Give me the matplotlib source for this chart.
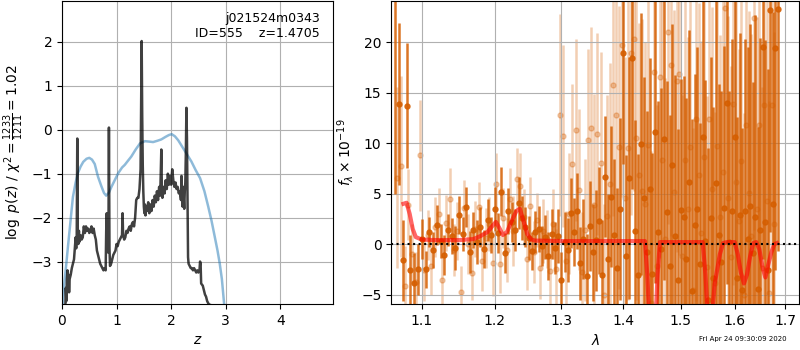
import numpy as np
import matplotlib
matplotlib.use("Agg")
import matplotlib.pyplot as plt
from matplotlib.ticker import ScalarFormatter, NullLocator, FixedLocator

# ---------------- left panel data: p(z) ----------------
pz_z = [0.06, 0.07, 0.08, 0.09, 0.10, 0.11, 0.12, 0.13, 0.14, 0.16, 0.18, 0.20, 0.22, 0.24, 0.25,
        0.26, 0.27, 0.28, 0.29, 0.30, 0.31, 0.32, 0.34, 0.36, 0.38, 0.40, 0.42, 0.44, 0.46, 0.48,
        0.50, 0.52, 0.54, 0.56, 0.58, 0.60, 0.62, 0.64, 0.66, 0.68, 0.70, 0.72, 0.74, 0.76, 0.78,
        0.80, 0.81, 0.82, 0.83, 0.84, 0.85, 0.86, 0.87, 0.88, 0.90, 0.92, 0.94, 0.96, 0.98, 1.00,
        1.02, 1.04, 1.06, 1.08, 1.10, 1.11, 1.12, 1.14, 1.16, 1.18, 1.20, 1.22, 1.24, 1.26, 1.28,
        1.30, 1.32, 1.34, 1.36, 1.38, 1.40, 1.42, 1.44, 1.45, 1.46, 1.47, 1.48, 1.49, 1.50, 1.51,
        1.52, 1.53, 1.54, 1.56, 1.58, 1.60, 1.62, 1.64, 1.66, 1.68, 1.70, 1.72, 1.74, 1.76, 1.78,
        1.80, 1.82, 1.83, 1.84, 1.86, 1.88, 1.90, 1.92, 1.94, 1.96, 1.98, 2.00, 2.02, 2.04, 2.06,
        2.08, 2.10, 2.12, 2.14, 2.16, 2.18, 2.19, 2.20, 2.21, 2.22, 2.23, 2.24, 2.25, 2.26, 2.27,
        2.28, 2.29, 2.30, 2.31, 2.32, 2.34, 2.36, 2.38, 2.40, 2.42, 2.44, 2.46, 2.48, 2.50, 2.52,
        2.53, 2.54, 2.55, 2.58, 2.60, 2.62, 2.64, 2.66, 2.68, 2.70, 2.75, 2.80]
pz_log = [-4.1, -3.6, -3.9, -3.4, -3.2, -3.6, -3.3, -3.7, -3.4, -3.3, -3.15, -3.05, -2.95, -2.6, -2.45,
          -2.7, -2.4, -0.2, -2.5, -2.6, -2.3, -2.55, -2.4, -2.5, -2.45, -2.2, -2.35, -2.2, -2.3, -2.25,
          -2.35, -2.3, -2.2, -2.35, -2.25, -2.4, -2.5, -2.75, -2.85, -2.95, -3.05, -3.1, -3.15, -3.2, -3.15,
          -3.2, -2.3, -1.9, -2.6, -2.2, -2.8, 0.05, -2.7, -3.1, -3.05, -2.95, -2.85, -2.8, -2.75, -2.6,
          -2.65, -2.55, -2.5, -2.45, -2.4, -1.9, -2.4, -2.5, -2.45, -2.3, -2.35, -2.25, -2.2, -2.3, -2.15,
          -2.1, -2.2, -2.0, -1.6, -1.55, -1.55, -1.35, -0.9, 0.5, 2.02, 0.3, -0.8, -1.4, -1.75, -1.9,
          -1.7, -1.95, -1.75, -1.85, -1.65, -1.9, -1.7, -1.85, -1.6, -1.75, -1.5, -1.65, -1.4, -1.6, -1.3,
          -1.5, -0.45, -1.35, -1.55, -1.3, -1.45, -1.15, -1.35, -1.0, -1.25, -1.05, -1.25, -0.9, -1.15, -1.3,
          -1.2, -1.35, -1.3, -1.45, -1.4, -1.6, -1.05, -1.5, -1.75, -1.3, -1.55, -1.8, -1.4, -1.2, -0.5,
          0.5, -0.2, -1.5, -2.9, -3.05, -3.1, -3.15, -3.15, -3.2, -3.15, -3.2, -3.25, -3.2, -3.25, -3.2,
          -3.0, -3.05, -3.5, -3.55, -3.65, -3.75, -3.8, -3.9, -3.95, -3.98, -4.0, -4.05]

chi_z = [0.0, 0.02, 0.05, 0.08, 0.11, 0.14, 0.17, 0.20, 0.25, 0.29, 0.34, 0.39, 0.45, 0.50, 0.55,
         0.60, 0.66, 0.72, 0.77, 0.81, 0.86, 0.91, 0.97, 1.03, 1.10, 1.15, 1.20, 1.27, 1.35, 1.43,
         1.52, 1.60, 1.67, 1.75, 1.82, 1.90, 1.96, 2.01, 2.07, 2.13, 2.20, 2.28, 2.37, 2.45, 2.53,
         2.61, 2.68, 2.74, 2.80, 2.85, 2.89, 2.93, 2.97, 3.0]
chi_val = [-4.6, -3.8, -3.4, -3.04, -2.65, -2.28, -1.9, -1.53, -1.2, -0.99, -0.84, -0.73, -0.66, -0.64, -0.68,
           -0.78, -1.07, -1.28, -1.44, -1.50, -1.43, -1.29, -1.14, -0.99, -0.86, -0.80, -0.72, -0.61, -0.45, -0.31,
           -0.26, -0.27, -0.28, -0.25, -0.22, -0.16, -0.12, -0.10, -0.15, -0.24, -0.38, -0.54, -0.72, -0.92, -1.10,
           -1.40, -1.75, -2.07, -2.44, -2.75, -3.04, -3.40, -3.95, -4.5]

# ---------------- right panel data: spectrum ----------------
wave_a = [1.065, 1.070, 1.075, 1.080, 1.085, 1.090, 1.095, 1.100, 1.105, 1.110, 1.115, 1.120, 1.125,
          1.130, 1.135, 1.140, 1.145, 1.150, 1.155, 1.160, 1.165, 1.170, 1.175, 1.180, 1.185, 1.190,
          1.195, 1.200, 1.205, 1.210, 1.215, 1.220, 1.225, 1.230, 1.235, 1.240, 1.245, 1.250, 1.255,
          1.260, 1.265, 1.270, 1.275, 1.280, 1.285, 1.290, 1.295, 1.300, 1.305, 1.310, 1.315, 1.320,
          1.325, 1.330, 1.335, 1.340, 1.345, 1.350, 1.355, 1.360, 1.365, 1.370, 1.375, 1.380, 1.385,
          1.390, 1.395, 1.400, 1.405, 1.410, 1.415, 1.420, 1.425, 1.430, 1.435, 1.440, 1.445, 1.450,
          1.455, 1.460, 1.465, 1.470, 1.475, 1.480, 1.485, 1.490, 1.495, 1.500, 1.505, 1.510, 1.515,
          1.520, 1.525, 1.530, 1.535, 1.540, 1.545, 1.550, 1.555, 1.560, 1.565, 1.570, 1.575, 1.580,
          1.585, 1.590, 1.595, 1.600, 1.605, 1.610, 1.615, 1.620, 1.625, 1.630, 1.635, 1.640, 1.645,
          1.650, 1.655, 1.660, 1.665, 1.670, 1.675, 1.680, 1.685]
flux_a = [26.0, 13.9, -1.6, 13.7, -2.6, -3.9, -2.5, 0.5, -2.5, 1.2, -0.6, 1.9, 0.3,
          -1.1, 1.4, 0.8, -0.4, 2.9, 1.0, 3.7, -0.8, 1.4, 0.2, 1.7, -0.5, 2.4,
          0.9, 3.5, 1.1, 5.2, -0.9, 3.3, 2.2, 1.4, 4.1, 2.6, 1.7, 0.6, -0.7,
          1.2, 1.5, -0.2, 0.7, -1.2, 1.0, -0.4, 0.8, -3.6, 0.2, -0.6, 3.1, 1.2,
          3.3, -1.9, 0.5, -3.2, 1.8, -0.8, 0.4, 2.3, -3.1, 6.7, -1.5, 4.7, 0.9,
          -2.4, 3.5, 18.9, -1.2, 6.6, 18.5, 1.3, -3.1, 9.9, 4.6, -0.8, 5.5, -3.0,
          11.1, 1.2, -0.5, 10.4, 3.2, -2.2, 7.8, 0.8, -3.6, 3.4, 2.7, -1.5, 6.2,
          -4.6, 1.9, 3.5, -2.0, 10.6, 0.3, -5.5, 2.6, -3.4, 6.1, 0.9, -1.8, 3.6,
          14.0, 0.2, 3.3, 10.6, -3.4, 2.9, -4.5, 3.3, 0.5, 3.8, -0.9, 2.7, -4.4,
          1.4, 19.5, 2.2, -2.6, 23.2, 4.0, 19.4, 23.3]
err_a = [21.0, 8.0, 4.0, 6.2, 3.5, 3.0, 2.5, 2.0, 1.8, 1.5, 1.8, 2.0, 1.7,
         2.0, 1.6, 1.8, 2.2, 1.9, 1.7, 2.0, 2.1, 1.8, 2.2, 2.0, 1.9, 2.1,
         1.8, 2.2, 2.0, 2.4, 2.0, 2.3, 2.0, 2.1, 2.6, 2.2, 2.0, 2.2, 1.9,
         2.1, 2.3, 2.0, 2.2, 2.4, 2.5, 2.6, 2.7, 2.8, 3.0, 3.2, 3.5, 3.4,
         3.8, 3.6, 4.0, 4.2, 4.5, 4.8, 5.0, 5.3, 5.5, 6.0, 6.5, 7.0, 7.5,
         8.0, 9.0, 11.0, 10.0, 12.0, 13.0, 11.0, 12.0, 13.0, 12.0, 14.0, 13.0, 12.0,
         15.0, 13.0, 16.0, 14.0, 13.0, 15.0, 14.0, 16.0, 15.0, 13.0, 14.0, 16.0, 15.0,
         17.0, 15.0, 16.0, 14.0, 17.0, 16.0, 15.0, 16.0, 17.0, 18.0, 15.0, 17.0, 16.0,
         18.0, 15.0, 17.0, 19.0, 16.0, 18.0, 16.0, 17.0, 19.0, 18.0, 17.0, 20.0, 16.0,
         19.0, 21.0, 18.0, 20.0, 22.0, 19.0, 22.0, 24.0]

wave_b = [1.0675, 1.0725, 1.0775, 1.0825, 1.0875, 1.0925, 1.0975, 1.1025, 1.1075, 1.1125, 1.1175,
          1.1225, 1.1275, 1.1325, 1.1375, 1.1425, 1.1475, 1.1525, 1.1575, 1.1625, 1.1675, 1.1725,
          1.1775, 1.1825, 1.1875, 1.1925, 1.1975, 1.2025, 1.2075, 1.2125, 1.2175, 1.2225, 1.2275,
          1.2325, 1.2375, 1.2425, 1.2475, 1.2525, 1.2575, 1.2625, 1.2675, 1.2725, 1.2775, 1.2825,
          1.2875, 1.2925, 1.2975, 1.3025, 1.3075, 1.3125, 1.3175, 1.3225, 1.3275, 1.3325, 1.3375,
          1.3425, 1.3475, 1.3525, 1.3575, 1.3625, 1.3675, 1.3725, 1.3775, 1.3825, 1.3875, 1.3925,
          1.3975, 1.4025, 1.4075, 1.4125, 1.4175, 1.4225, 1.4275, 1.4325, 1.4375, 1.4425, 1.4475,
          1.4525, 1.4575, 1.4625, 1.4675, 1.4725, 1.4775, 1.4825, 1.4875, 1.4925, 1.4975, 1.5025,
          1.5075, 1.5125, 1.5175, 1.5225, 1.5275, 1.5325, 1.5375, 1.5425, 1.5475, 1.5525, 1.5575,
          1.5625, 1.5675, 1.5725, 1.5775, 1.5825, 1.5875, 1.5925, 1.5975, 1.6025, 1.6075, 1.6125,
          1.6175, 1.6225, 1.6275, 1.6325, 1.6375, 1.6425, 1.6475, 1.6525, 1.6575, 1.6625, 1.6675,
          1.6725, 1.6775]
flux_b = [6.6, 7.7, -4.2, 3.9, -1.0, -3.8, 8.8, -2.6, 0.9, -2.2, 1.7,
          3.0, -3.6, 2.1, 4.5, -0.6, 1.3, -4.7, 3.6, 0.0, -2.9, 1.5,
          3.7, -1.7, 0.6, 2.0, -1.9, 6.0, -2.0, 2.6, -0.6, 4.5, 1.3,
          6.5, 5.8, 2.7, -1.5, 3.8, -0.8, 2.4, -2.4, 1.3, 0.5, -2.7,
          2.0, -2.5, 12.8, 10.7, -1.7, 3.0, 7.9, 11.3, 5.4, -2.8, 1.4,
          10.3, 11.5, 3.9, 10.9, 8.0, -5.0, 2.8, 6.0, 15.8, 12.8, 9.6,
          19.7, 4.6, 9.5, 18.9, 20.3, 10.5, 6.9, 5.3, 4.0, 9.8, -5.8,
          17.1, -2.2, 16.6, 8.3, 0.5, 21.0, 17.8, 5.2, 16.2, 16.9, -1.2,
          8.3, 3.5, 9.6, -4.5, 12.4, 6.9, 1.1, 8.6, -2.3, 12.4, 5.5,
          -3.9, 9.7, 2.7, 7.2, 23.4, 4.6, -1.3, 13.9, 6.2, 2.3, 8.2,
          -5.0, 11.8, 5.1, 0.8, 22.4, 3.5, 11.8, -2.4, 13.8, 4.3, -4.8,
          13.8, 2.0]
err_b = [9.0, 9.0, 4.0, 3.5, 3.0, 3.0, 5.5, 3.0, 2.5, 2.8, 3.0,
         2.6, 2.5, 2.8, 3.0, 2.6, 2.9, 2.5, 2.8, 3.0, 2.6, 2.8,
         2.5, 2.9, 3.0, 2.7, 3.2, 3.0, 2.8, 3.0, 3.2, 3.0, 3.5,
         3.0, 3.2, 2.8, 3.0, 2.9, 3.1, 2.7, 3.0, 3.2, 2.9, 3.3,
         3.5, 4.0, 10.0, 9.0, 5.0, 6.0, 8.0, 9.0, 8.0, 6.0, 7.0,
         9.0, 10.0, 11.0, 10.0, 11.0, 9.0, 12.0, 12.0, 13.0, 12.0, 14.0,
         15.0, 14.0, 15.0, 16.0, 15.0, 16.0, 15.0, 17.0, 16.0, 18.0, 15.0,
         17.0, 16.0, 18.0, 17.0, 16.0, 19.0, 17.0, 18.0, 17.0, 18.0, 16.0,
         18.0, 17.0, 19.0, 16.0, 18.0, 17.0, 19.0, 18.0, 17.0, 19.0, 18.0,
         17.0, 19.0, 18.0, 17.0, 20.0, 18.0, 19.0, 18.0, 19.0, 17.0, 20.0,
         18.0, 19.0, 18.0, 20.0, 21.0, 19.0, 20.0, 18.0, 21.0, 20.0, 19.0,
         20.0, 19.0]

model_wave = [1.076, 1.080, 1.084, 1.088, 1.092, 1.100, 1.120, 1.150, 1.170, 1.180, 1.190, 1.197,
              1.202, 1.207, 1.212, 1.218, 1.225, 1.232, 1.237, 1.242, 1.248, 1.254, 1.260, 1.300,
              1.350, 1.400, 1.437, 1.441, 1.445, 1.449, 1.455, 1.459, 1.463, 1.500, 1.540, 1.545,
              1.550, 1.556, 1.562, 1.567, 1.572, 1.578, 1.585, 1.600, 1.606, 1.612, 1.618, 1.624,
              1.630, 1.636, 1.642, 1.648, 1.654, 1.660, 1.666, 1.672, 1.678, 1.683]
model_flux = [4.0, 4.1, 3.0, 1.5, 0.7, 0.45, 0.4, 0.4, 0.5, 0.8, 1.2, 1.8,
              2.2, 1.6, 0.9, 1.2, 2.3, 3.3, 3.5, 2.4, 1.0, 0.45, 0.35, 0.3,
              0.3, 0.3, 0.3, -3.0, -8.0, -9.0, -8.0, -3.0, 0.2, 0.2, 0.2, -3.0,
              -8.0, -8.0, -4.0, -2.5, -1.0, 0.1, 0.2, 0.2, -1.0, -2.8, -3.9, -3.0,
              -1.2, 0.1, 0.2, -0.5, -2.2, -3.3, -2.0, -0.8, 0.0, 0.1]

lam_ticks = [1.1, 1.2, 1.3, 1.4, 1.5, 1.6, 1.7]
title_text = "j021524m0343\nID=555    z=1.4705"
stamp = "Fri Apr 24 09:30:09 2020"

g141 = (0.8352941176470589, 0.3686274509803922, 0.0)

fig = plt.figure(figsize=(8, 3.5), dpi=100)
ax1 = fig.add_axes([0.0775, 0.131, 0.339, 0.866])
ax2 = fig.add_axes([0.489, 0.131, 0.510, 0.866])

# left
ax1.plot(chi_z, chi_val, color='tab:blue', alpha=0.5, lw=1.8)
ax1.plot(pz_z, pz_log, color='k', alpha=0.75, lw=1.8)
ax1.set_xlim(0, 4.97)
ax1.set_ylim(-3.97, 2.93)
ax1.set_xticks([0, 1, 2, 3, 4])
ax1.set_yticks([-3, -2, -1, 0, 1, 2])
ax1.grid(True)
ax1.set_xlabel(r'$z$')
ax1.set_ylabel(r'$\log\ p(z)$ / $\chi^2=\frac{1233}{1211}=1.02$')
ax1.text(0.95, 0.965, title_text, ha='right', va='top', transform=ax1.transAxes, fontsize=9)

# right
ax2.errorbar(wave_b, flux_b, yerr=err_b, color=g141, alpha=0.3, marker='o', ms=3.6,
             linestyle='None', elinewidth=1.8, zorder=1)
ax2.errorbar(wave_a, flux_a, yerr=err_a, color=g141, alpha=0.85, marker='o', ms=3.6,
             linestyle='None', elinewidth=1.8, zorder=2)
ax2.plot(model_wave, model_flux, color='red', alpha=0.6, lw=3, zorder=5)
ax2.axhline(0, color='k', linestyle=':', lw=1.5, zorder=6)
ax2.set_xscale('log')
ax2.set_xlim(1.0603, 1.7287)
ax2.xaxis.set_major_locator(FixedLocator(lam_ticks))
ax2.xaxis.set_major_formatter(ScalarFormatter())
ax2.xaxis.set_minor_locator(NullLocator())
ax2.set_ylim(-5.95, 24.1)
ax2.set_yticks([-5, 0, 5, 10, 15, 20])
ax2.grid(True)
ax2.set_xlabel(r'$\lambda$')
ax2.set_ylabel(r'$f_\lambda \times 10^{-19}$')

fig.text(0.983, 0.031, stamp, ha='right', va='center', fontsize=5)

fig.savefig('out.png', dpi=100)
